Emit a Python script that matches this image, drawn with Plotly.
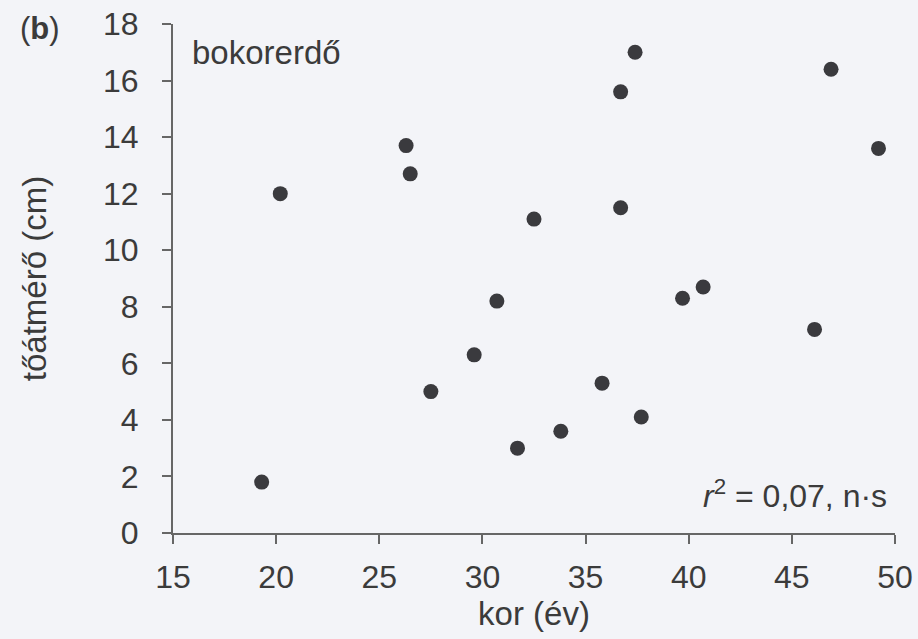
import plotly.graph_objects as go

# Data (age in years, trunk diameter in cm)
kor = [19.3, 20.2, 26.3, 26.5, 27.5, 29.6, 30.7, 31.7, 32.5, 33.8,
       35.8, 36.7, 36.7, 37.4, 37.7, 39.7, 40.7, 46.1, 46.9, 49.2]
toatmero = [1.8, 12.0, 13.7, 12.7, 5.0, 6.3, 8.2, 3.0, 11.1, 3.6,
            5.3, 15.6, 11.5, 17.0, 4.1, 8.3, 8.7, 7.2, 16.4, 13.6]

x_ticks = [15, 20, 25, 30, 35, 40, 45, 50]
y_ticks = [0, 2, 4, 6, 8, 10, 12, 14, 16, 18]

FONT = "Liberation Sans, Arial, sans-serif"
TXT = "#3b3b3b"
AX = "#666666"
BG = "#f3f4f8"

fig = go.Figure()
fig.add_trace(go.Scatter(
    x=kor, y=toatmero, mode="markers",
    marker=dict(size=15, color="#3a3a3e", line=dict(width=0)),
    cliponaxis=False, showlegend=False,
))

axis_common = dict(
    showgrid=False, zeroline=False, showline=True, linecolor=AX, linewidth=2,
    ticks="outside", ticklen=9, tickwidth=2, tickcolor=AX,
    tickfont=dict(family=FONT, size=32, color=TXT),
)

fig.update_xaxes(range=[15, 50], tickvals=x_ticks, ticklabelstandoff=6,
                 title=dict(text="kor (év)", font=dict(family=FONT, size=33, color=TXT), standoff=0),
                 **axis_common)
fig.update_yaxes(range=[0, 18], tickvals=y_ticks, ticklabelstandoff=17,
                 title=dict(text="tőátmérő (cm)", font=dict(family=FONT, size=33, color=TXT), standoff=46),
                 **axis_common)

fig.add_annotation(x=-0.184, y=0.992, xref="paper", yref="paper",
                   text="(<b>b</b>)", showarrow=False, xanchor="center", yanchor="middle",
                   font=dict(family=FONT, size=31, color=TXT))
fig.add_annotation(x=15.8, y=17.0, xref="x", yref="y",
                   text="bokorerdő", showarrow=False, xanchor="left", yanchor="middle",
                   font=dict(family=FONT, size=33, color=TXT))
fig.add_annotation(x=49.7, y=1.38, xref="x", yref="y",
                   text="<i>r</i><sup>2</sup> = 0,07, n·s", showarrow=False,
                   xanchor="right", yanchor="middle",
                   font=dict(family=FONT, size=32, color=TXT))

fig.update_layout(
    width=918, height=639,
    margin=dict(l=173, r=23, t=24, b=106, autoexpand=False),
    paper_bgcolor=BG, plot_bgcolor=BG,
    font=dict(family=FONT, color=TXT),
)

fig.write_html("out.html", config={"displayModeBar": False},
               post_script="document.body.style.margin='0';document.body.style.background='%s';" % BG)
